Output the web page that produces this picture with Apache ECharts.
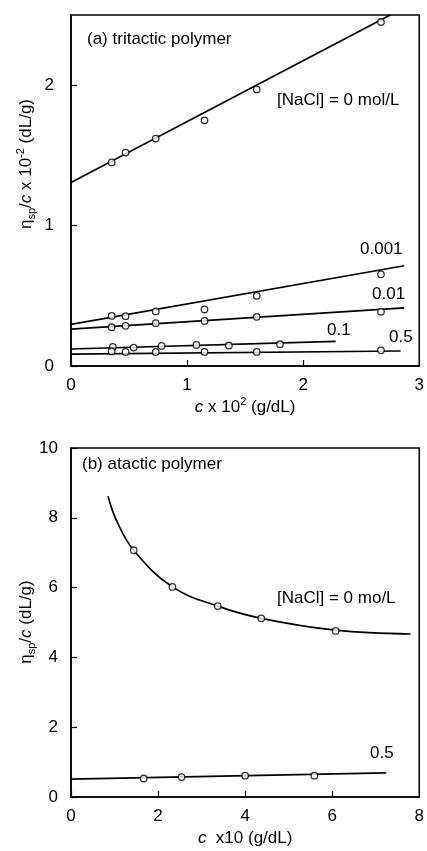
<!DOCTYPE html>
<html>
<head>
<meta charset="utf-8">
<script src="https://cdn.jsdelivr.net/npm/echarts@6/dist/echarts.min.js"></script>
<style>
  html, body { margin: 0; padding: 0; background: #fff; }
  #chart { width: 427px; height: 851px; }
</style>
</head>
<body>
<div id="chart"></div>
<script>
// (a) tritactic polymer, c x 10^2 (g/dL)
const cA = [0.35, 0.47, 0.73, 1.15, 1.60, 2.67]
const etaA0 = [1.45, 1.52, 1.62, 1.75, 1.97, 2.45]
const etaA001 = [0.357, 0.355, 0.389, 0.403, 0.50, 0.653]
const etaA01 = [0.276, 0.286, 0.305, 0.321, 0.35, 0.386]
const cA1 = [0.36, 0.54, 0.78, 1.08, 1.36, 1.80]
const etaA1 = [0.136, 0.131, 0.143, 0.15, 0.146, 0.155]
const etaA5 = [0.105, 0.10, 0.10, 0.10, 0.10, 0.112]
// fitted straight lines, end points
const fitA0 = [[0, 1.307], [2.75, 2.5]]
const fitA001 = [[0, 0.296], [2.87, 0.714]]
const fitA01 = [[0, 0.262], [2.87, 0.414]]
const fitA1 = [[0, 0.121], [2.28, 0.176]]
const fitA5 = [[0, 0.084], [2.84, 0.107]]

// (b) atactic polymer, c x 10 (g/dL)
const cB0 = [1.44, 2.33, 3.37, 4.37, 6.08]
const etaB0 = [7.07, 6.02, 5.47, 5.12, 4.76]
const curveBc = [0.85, 1.05, 1.44, 2.33, 3.37, 4.37, 6.08, 7.8]
const curveBv = [8.62, 7.91, 7.07, 6.02, 5.47, 5.12, 4.78, 4.67]
const cB5 = [1.67, 2.54, 4.0, 5.59]
const etaB5 = [0.53, 0.57, 0.61, 0.61]
const fitB5 = [[0, 0.51], [7.24, 0.69]]

const FONT = '"Liberation Sans", Arial, sans-serif'
const zip = (xs, ys) => xs.map((x, i) => [x, ys[i]])

const rich = {
  n: { fontSize: 17, fontFamily: FONT, fill: '#000', color: '#000', lineHeight: 22 },
  it: { fontSize: 17, fontFamily: FONT, fontStyle: 'italic', fill: '#000', color: '#000', lineHeight: 22 },
  sub: { fontSize: 11, fontFamily: FONT, fill: '#000', color: '#000', verticalAlign: 'bottom', lineHeight: 22, padding: [7, 0, 0, 0] },
  sup: { fontSize: 11, fontFamily: FONT, fill: '#000', color: '#000', verticalAlign: 'top', lineHeight: 22, padding: [0, 0, 7, 0] }
}

function xAx(idx, max, interval, name, gap) {
  return {
    gridIndex: idx, type: 'value', min: 0, max: max, interval: interval,
    name: name, nameLocation: 'middle', nameGap: gap,
    nameTextStyle: { rich: rich },
    axisLine: { lineStyle: { color: '#000', width: 1.5 } },
    axisTick: { inside: true, length: 6, lineStyle: { color: '#000', width: 1.2 } },
    axisLabel: { color: '#000', fontSize: 17, fontFamily: FONT, margin: 11 },
    splitLine: { show: false }
  }
}
function yAx(idx, max, interval, margin) {
  return {
    gridIndex: idx, type: 'value', min: 0, max: max, interval: interval,
    axisLine: { lineStyle: { color: '#000', width: 1.5 } },
    axisTick: { inside: true, length: 6, lineStyle: { color: '#000', width: 1.2 } },
    axisLabel: { color: '#000', fontSize: 17, fontFamily: FONT, margin: margin, showMaxLabel: max % interval === 0 },
    splitLine: { show: false }
  }
}
function pts(xi, data) {
  return {
    type: 'scatter', xAxisIndex: xi, yAxisIndex: xi, data: data,
    symbol: 'circle', symbolSize: 6.5, z: 5,
    itemStyle: { color: '#fff', borderColor: '#000', borderWidth: 1.3 }
  }
}
function fit(xi, data, smooth) {
  return {
    type: 'line', xAxisIndex: xi, yAxisIndex: xi, data: data,
    showSymbol: false, symbol: 'none', smooth: smooth || false,
    lineStyle: { color: '#000', width: 1.7 }, z: 3
  }
}
function label(text, x, y) {
  return { type: 'text', x: x, y: y, style: { text: text, fontSize: 17, fontFamily: FONT, fill: '#000', verticalAlign: 'middle' } }
}
function yName(text, x, y) {
  return {
    type: 'text', x: x, y: y, rotation: Math.PI / 2,
    style: { text: text, rich: rich, align: 'center', verticalAlign: 'middle' }
  }
}

const chart = echarts.init(document.getElementById('chart'))
const option = {
  animation: false,
  backgroundColor: '#fff',
  grid: [
    { left: 71, top: 15, width: 351, height: 351, show: true, borderColor: '#000', borderWidth: 1.5 },
    { left: 71, top: 448, width: 350, height: 349, show: true, borderColor: '#000', borderWidth: 1.5 }
  ],
  xAxis: [
    xAx(0, 3, 1, '{it|c}{n| x 10}{sup|2}{n| (g/dL)}', 30),
    xAx(1, 8, 2, '{it|c}{n|  x10 (g/dL)}', 30)
  ],
  yAxis: [
    yAx(0, 2.5, 1, 17),
    yAx(1, 10, 2, 13)
  ],
  series: [
    fit(0, fitA0), fit(0, fitA001), fit(0, fitA01), fit(0, fitA1), fit(0, fitA5),
    pts(0, zip(cA, etaA0)), pts(0, zip(cA, etaA001)), pts(0, zip(cA, etaA01)),
    pts(0, zip(cA1, etaA1)), pts(0, zip(cA, etaA5)),
    fit(1, zip(curveBc, curveBv), 0.4), fit(1, fitB5),
    pts(1, zip(cB0, etaB0)), pts(1, zip(cB5, etaB5))
  ],
  graphic: [
    yName('{n|η}{sub|sp}{n|/}{it|c}{n| x 10}{sup|-2}{n| (dL/g)}', 26, 164),
    yName('{n|η}{sub|sp}{n|/}{it|c}{n| (dL/g)}', 26, 622),
    label('(a) tritactic polymer', 87, 39),
    label('[NaCl] = 0 mol/L', 277, 100),
    label('0.001', 360, 249),
    label('0.01', 372, 294),
    label('0.1', 327, 330),
    label('0.5', 389, 337),
    label('(b) atactic polymer', 82, 464),
    label('[NaCl] = 0 mo/L', 277, 598),
    label('0.5', 370, 753)
  ]
}
chart.setOption(option)
</script>
</body>
</html>
